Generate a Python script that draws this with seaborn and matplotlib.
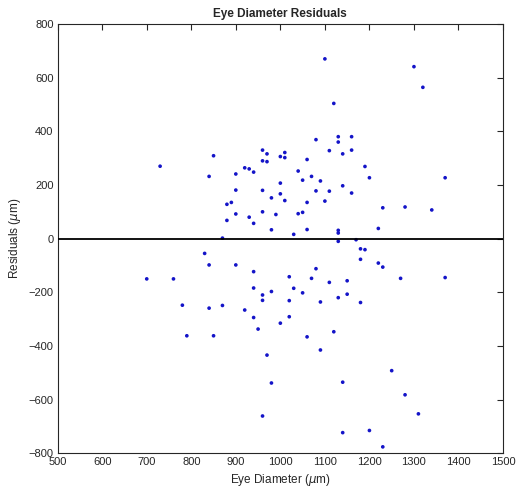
import numpy as np
import pandas as pd
import matplotlib
matplotlib.use("Agg")
import matplotlib.pyplot as plt
import seaborn as sns

eye_diameter = [
    730, 850, 840, 900, 920, 930, 940, 960, 970, 960, 970, 900, 960, 980, 880, 890,
    900, 880, 930, 940, 960, 990, 980, 870, 1000, 1000, 1000, 1100, 1300, 1320,
    1120, 1080, 1130, 1130, 1160, 1110, 1140, 1160, 1010, 1010, 1060, 1040, 1070,
    1050, 1090, 1190, 1200, 1370, 1010, 1080, 1110, 1140, 1160, 1100, 1060, 1040,
    1050, 1230, 1280, 1340, 1030, 1060, 1130, 1130, 1220,
    1130, 1170, 1180, 1190, 1180, 1220, 1230, 1080, 1020, 1070, 1270, 1370, 830,
    840, 900, 940, 700, 760, 940, 960, 960, 980, 780, 840, 870, 920, 940, 950,
    790, 850, 970, 980, 960, 1000, 1110, 1150, 1030, 1050, 1020, 1090, 1130, 1150,
    1180, 1020, 1120, 1060, 1090, 1250, 1140, 1280, 1310, 1140, 1200, 1230,
]
residuals = [
    270, 309, 232, 241, 264, 260, 248, 330, 316, 290, 287, 181, 180, 152, 128, 135,
    92, 68, 80, 57, 100, 90, 33, 2, 306, 207, 167, 670, 641, 564,
    504, 369, 380, 360, 380, 328, 316, 330, 321, 302, 295, 252, 232,
    218, 215, 269, 227, 227, 142, 178, 177, 197, 170, 140, 135, 93,
    98, 115, 118, 107, 16, 34, 31, 21, 38,
    -10, -4, -38, -41, -77, -91, -106, -112, -142, -148, -148, -145, -55,
    -98, -98, -123, -150, -150, -184, -210, -230, -197, -248, -259, -249, -266, -294, -337,
    -362, -362, -434, -538, -661, -315, -163, -157, -185, -202, -231, -236, -220, -207,
    -238, -291, -347, -366, -415, -492, -535, -582, -653, -723, -715, -776,
]

df = pd.DataFrame({"x": eye_diameter, "y": residuals})

sns.set_theme(style="white")
plt.rcParams["font.family"] = ["Liberation Sans", "DejaVu Sans"]
plt.rcParams["mathtext.fontset"] = "dejavusans"

fig = plt.figure(figsize=(5.21, 4.99), dpi=100)
ax = fig.add_axes([0.1107, 0.0916, 0.8548, 0.8603])

sns.scatterplot(data=df, x="x", y="y", ax=ax, color="#1414c8", s=7,
                marker="o", edgecolor="none", linewidth=0)
ax.axhline(0, color="black", linewidth=1.3, zorder=3)

ax.set_xlim(500, 1500)
ax.set_ylim(-800, 800)
ax.set_xticks(np.arange(500, 1501, 100))
ax.set_yticks(np.arange(-800, 801, 200))
ax.tick_params(direction="in", length=4, width=0.8, top=True, right=True,
               labelsize=8, colors="#262626", pad=3)
for sp in ax.spines.values():
    sp.set_color("#262626")
    sp.set_linewidth(0.8)

ax.set_xlabel(r"Eye Diameter ($\mu$m)", fontsize=8.5, color="#262626", labelpad=3)
ax.set_ylabel(r"Residuals ($\mu$m)", fontsize=8.5, color="#262626", labelpad=4)
ax.set_title("Eye Diameter Residuals", fontsize=8.5, fontweight="bold", pad=5)

fig.savefig("out.png", dpi=100, facecolor="white")
